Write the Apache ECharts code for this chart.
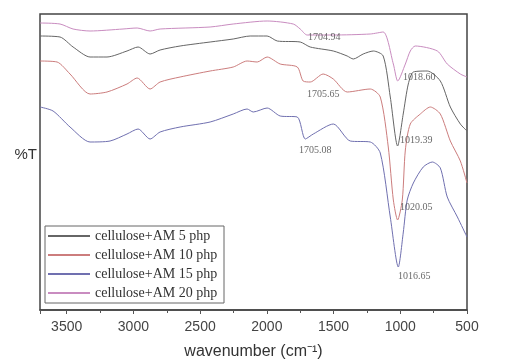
<!DOCTYPE html>
<html>
<head>
<meta charset="utf-8">
<script src="https://cdn.jsdelivr.net/npm/echarts@6/dist/echarts.min.js"></script>
<style>html,body{margin:0;padding:0;background:#fff;}#c{width:505px;height:360px;}</style>
</head>
<body>
<div id="c"></div>
<script>
// Series names
const seriesNames = ['cellulose+AM 5 php', 'cellulose+AM 10 php', 'cellulose+AM 15 php', 'cellulose+AM 20 php'];
const xTicks = [3500, 3000, 2500, 2000, 1500, 1000, 500];

// 5 php
const wn5 = [3700,3550,3452,3325,3198,3048,2965,2875,2800,2650,2425,2252,2125,1998,1922,1750,1675,1502,1398,1352,1278,1202,1128,1075,1020,978,940,902,798,700,625,550,500];
const t5  = [274,273,263,253,253,259,263,256,260,264,268,271,274,274,269,268,263,259,254,251,256,259,254,213,164,196,226,238,239,229,203,186,179];
// 10 php
const wn10 = [3700,3572,3475,3325,3198,3048,2972,2875,2800,2650,2425,2252,2148,2072,1998,1900,1772,1728,1675,1578,1502,1398,1225,1150,1090,1052,1020,985,962,925,850,775,700,625,550,500];
const t10  = [249,248,236,216,218,226,232,221,228,233,239,243,249,248,253,246,243,229,228,236,231,218,221,213,163,110,90,110,160,186,196,203,196,169,149,127];
// 15 php
const wn15 = [3700,3602,3475,3325,3175,3048,2965,2875,2800,2650,2425,2252,2148,2102,1998,1900,1772,1712,1652,1502,1375,1225,1150,1075,1015,978,948,902,828,760,700,648,572,500];
const t15  = [203,199,183,168,169,176,181,171,178,183,188,196,201,198,202,194,193,171,176,186,169,168,157,93,43,77,110,127,143,148,142,113,93,73];
// 20 php
const wn20 = [3700,3550,3452,3325,3078,2972,2875,2800,2425,2252,1998,1802,1750,1698,1502,1225,1128,1052,1019,962,925,888,722,648,550,500];
const t20  = [287,286,281,279,281,282,279,281,283,286,289,286,281,275,275,276,278,246,229,246,259,264,259,246,236,233];

// Peak annotations: position (wavenumber, value) and text
const annWn   = [1570, 1578, 1638, 858, 880, 880, 895];
const annVal  = [273, 216, 160, 233, 170, 103, 34];
const annText = ['1704.94', '1705.65', '1705.08', '1018.60', '1019.39', '1020.05', '1016.65'];

const colors = ['#666666', '#cc7d7d', '#7070b0', '#c98cc0'];

function zip(a, b) { return a.map((v, i) => [v, b[i]]); }
const dataSets = [zip(wn5, t5), zip(wn10, t10), zip(wn15, t15), zip(wn20, t20)];

const chart = echarts.init(document.getElementById('c'), null, {renderer: 'canvas'});
const series = dataSets.map((d, i) => ({
  name: seriesNames[i],
  type: 'line',
  data: d,
  symbol: 'none',
  smooth: 0.25,
  lineStyle: {color: colors[i], width: 1},
  itemStyle: {color: colors[i]},
  z: 3
}));
series.push({
  name: 'labels',
  type: 'scatter',
  symbolSize: 0,
  data: annWn.map((w, i) => ({value: [w, annVal[i]], txt: annText[i]})),
  label: {
    show: true, position: 'inside',
    formatter: p => p.data.txt,
    fontFamily: 'Liberation Serif', fontSize: 10, color: '#444'
  },
  silent: true, z: 5
});

chart.setOption({
  animation: false,
  backgroundColor: '#fff',
  grid: {left: 40, right: 38, top: 14, bottom: 50, show: true, borderColor: '#444', borderWidth: 1.5, outerBoundsMode: 'none', containLabel: false},
  legend: {
    data: seriesNames,
    orient: 'vertical',
    left: 45, top: 226,
    padding: [3, 2, 3, 2],
    itemWidth: 42, itemHeight: 12, itemGap: 5,
    itemStyle: {opacity: 0},
    borderColor: '#666', borderWidth: 1,
    backgroundColor: '#fff',
    textStyle: {fontFamily: 'Liberation Serif', fontSize: 14, lineHeight: 12, color: '#333', width: 127, overflow: 'truncate', ellipsis: ''}
  },
  xAxis: {
    type: 'value', inverse: true, min: 500, max: 3700, interval: 500,
    name: 'wavenumber (cm\u207B\u00B9)', nameLocation: 'middle', nameGap: 34,
    nameTextStyle: {fontFamily: 'Liberation Sans', fontSize: 16, color: '#333'},
    axisLine: {show: true, lineStyle: {color: '#444', width: 1.5}},
    axisTick: {show: true, length: 4, lineStyle: {color: '#555'}},
    minorTick: {show: true, splitNumber: 2, length: 3, lineStyle: {color: '#555'}},
    splitLine: {show: false},
    axisLabel: {
      showMaxLabel: false,
      formatter: v => (xTicks.indexOf(v) >= 0 ? String(v) : ''),
      fontFamily: 'Liberation Sans', fontSize: 14, color: '#444', margin: 10
    }
  },
  yAxis: {
    type: 'value', min: 0, max: 296,
    name: '%T', nameLocation: 'middle', nameRotate: 0, nameGap: 3,
    nameTextStyle: {fontFamily: 'Liberation Sans', fontSize: 15, color: '#333', verticalAlign: 'bottom'},
    axisLine: {show: false}, axisTick: {show: false}, axisLabel: {show: false}, splitLine: {show: false}
  },
  series: series
});
</script>
</body>
</html>
